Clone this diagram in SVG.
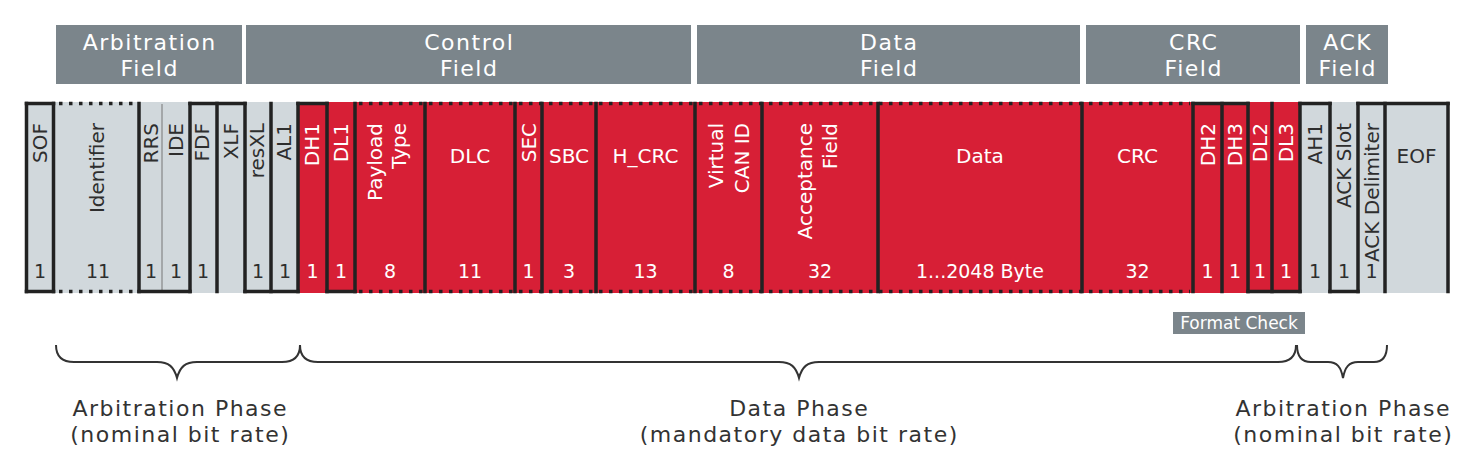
<svg xmlns="http://www.w3.org/2000/svg" width="1476" height="473" viewBox="0 0 1476 473">
<style>
.hdr{fill:#7b858b}
.ht{font-family:"DejaVu Sans",sans-serif;font-size:22px;letter-spacing:1.5px;fill:#fff;text-anchor:middle}
.g{fill:#d1d8dc}
.r{fill:#d71f36}
.lab{font-family:"DejaVu Sans",sans-serif;font-size:20px}
.dk{fill:#2e2e2e}
.wt{fill:#fff}
.v{text-anchor:end}
.h{text-anchor:middle}
.num{font-family:"DejaVu Sans",sans-serif;font-size:19px;text-anchor:middle}
.thick{stroke:#222;stroke-width:3.5;fill:none;stroke-linecap:square}
.dot{stroke:#222;stroke-width:3.5;stroke-dasharray:3.5 6.5;fill:none}
.thin{stroke:#777;stroke-width:1;fill:none}
.brace{stroke:#333;stroke-width:2;fill:none}
.bt{font-family:"DejaVu Sans",sans-serif;font-size:22px;letter-spacing:1.5px;fill:#333;text-anchor:middle}
.fc{font-family:"DejaVu Sans",sans-serif;font-size:17px;fill:#fff;text-anchor:middle}
</style>

<g id="headers">
  <g id="hdr-arbitration"><rect class="hdr" x="56" y="25" width="186" height="59"/><text class="ht" x="149.75" y="50">Arbitration</text><text class="ht" x="149.75" y="76">Field</text></g>
  <g id="hdr-control"><rect class="hdr" x="246" y="25" width="445" height="59"/><text class="ht" x="469.25" y="50">Control</text><text class="ht" x="469.25" y="76">Field</text></g>
  <g id="hdr-data"><rect class="hdr" x="697" y="25" width="383" height="59"/><text class="ht" x="889.25" y="50">Data</text><text class="ht" x="889.25" y="76">Field</text></g>
  <g id="hdr-crc"><rect class="hdr" x="1086" y="25" width="214" height="59"/><text class="ht" x="1193.75" y="50">CRC</text><text class="ht" x="1193.75" y="76">Field</text></g>
  <g id="hdr-ack"><rect class="hdr" x="1306" y="25" width="82" height="59"/><text class="ht" x="1347.75" y="50">ACK</text><text class="ht" x="1347.75" y="76">Field</text></g>
</g>

<g id="fields">
  <g id="f-sof"><rect class="g" x="25" y="102" width="30" height="191"/><text class="lab dk v" transform="translate(47,123) rotate(-90)">SOF</text><text class="num dk" x="40" y="278">1</text></g>
  <g id="f-identifier"><rect class="g" x="55" y="102" width="84" height="191"/><text class="lab dk v" transform="translate(104,123) rotate(-90)">Identifier</text><text class="num dk" x="98" y="278">11</text></g>
  <g id="f-rrs"><rect class="g" x="139" y="102" width="23" height="191"/><text class="lab dk v" transform="translate(158,123) rotate(-90)">RRS</text><text class="num dk" x="151" y="278">1</text></g>
  <g id="f-ide"><rect class="g" x="162" y="102" width="28" height="191"/><text class="lab dk v" transform="translate(183,123) rotate(-90)">IDE</text><text class="num dk" x="176" y="278">1</text></g>
  <g id="f-fdf"><rect class="g" x="190" y="102" width="27" height="191"/><text class="lab dk v" transform="translate(209,123) rotate(-90)">FDF</text><text class="num dk" x="203" y="278">1</text></g>
  <g id="f-xlf"><rect class="g" x="217" y="102" width="28" height="191"/><text class="lab dk v" transform="translate(238,123) rotate(-90)">XLF</text></g>
  <g id="f-resxl"><rect class="g" x="245" y="102" width="26" height="191"/><text class="lab dk v" transform="translate(264,123) rotate(-90)">resXL</text><text class="num dk" x="258" y="278">1</text></g>
  <g id="f-al1"><rect class="g" x="271" y="102" width="27" height="191"/><text class="lab dk v" transform="translate(291,123) rotate(-90)">AL1</text><text class="num dk" x="285" y="278">1</text></g>

  <g id="f-dh1"><rect class="r" x="298" y="102" width="29" height="191"/><text class="lab wt v" transform="translate(319,123) rotate(-90)">DH1</text><text class="num wt" x="312.5" y="278">1</text></g>
  <g id="f-dl1"><rect class="r" x="327" y="102" width="28" height="191"/><text class="lab wt v" transform="translate(348,123) rotate(-90)">DL1</text><text class="num wt" x="341" y="278">1</text></g>
  <g id="f-payload"><rect class="r" x="355" y="102" width="70" height="191"/><text class="lab wt v" transform="translate(382,123) rotate(-90)">Payload</text><text class="lab wt v" transform="translate(406,123) rotate(-90)">Type</text><text class="num wt" x="390" y="278">8</text></g>
  <g id="f-dlc"><rect class="r" x="425" y="102" width="90" height="191"/><text class="lab wt h" x="470" y="163">DLC</text><text class="num wt" x="470" y="278">11</text></g>
  <g id="f-sec"><rect class="r" x="515" y="102" width="27" height="191"/><text class="lab wt v" transform="translate(536,123) rotate(-90)">SEC</text><text class="num wt" x="528.5" y="278">1</text></g>
  <g id="f-sbc"><rect class="r" x="542" y="102" width="54" height="191"/><text class="lab wt h" x="569" y="163">SBC</text><text class="num wt" x="569" y="278">3</text></g>
  <g id="f-hcrc"><rect class="r" x="596" y="102" width="99" height="191"/><text class="lab wt h" x="645.5" y="163">H_CRC</text><text class="num wt" x="645.5" y="278">13</text></g>
  <g id="f-vcanid"><rect class="r" x="695" y="102" width="67" height="191"/><text class="lab wt v" transform="translate(723,123) rotate(-90)">Virtual</text><text class="lab wt v" transform="translate(749,123) rotate(-90)">CAN ID</text><text class="num wt" x="728.5" y="278">8</text></g>
  <g id="f-acceptance"><rect class="r" x="762" y="102" width="116" height="191"/><text class="lab wt v" transform="translate(812,123) rotate(-90)">Acceptance</text><text class="lab wt v" transform="translate(837,123) rotate(-90)">Field</text><text class="num wt" x="820" y="278">32</text></g>
  <g id="f-data"><rect class="r" x="878" y="102" width="204" height="191"/><text class="lab wt h" x="980" y="163">Data</text><text class="num wt" x="980" y="278">1...2048 Byte</text></g>
  <g id="f-crc"><rect class="r" x="1082" y="102" width="111" height="191"/><text class="lab wt h" x="1137.5" y="163">CRC</text><text class="num wt" x="1137.5" y="278">32</text></g>
  <g id="f-dh2"><rect class="r" x="1193" y="102" width="29" height="191"/><text class="lab wt v" transform="translate(1214.5,123) rotate(-90)">DH2</text><text class="num wt" x="1207.5" y="278">1</text></g>
  <g id="f-dh3"><rect class="r" x="1222" y="102" width="26" height="191"/><text class="lab wt v" transform="translate(1242,123) rotate(-90)">DH3</text><text class="num wt" x="1235" y="278">1</text></g>
  <g id="f-dl2"><rect class="r" x="1248" y="102" width="24" height="191"/><text class="lab wt v" transform="translate(1267,123) rotate(-90)">DL2</text><text class="num wt" x="1260" y="278">1</text></g>
  <g id="f-dl3"><rect class="r" x="1272" y="102" width="28" height="191"/><text class="lab wt v" transform="translate(1293,123) rotate(-90)">DL3</text><text class="num wt" x="1286" y="278">1</text></g>

  <g id="f-ah1"><rect class="g" x="1300" y="102" width="30" height="191"/><text class="lab dk v" transform="translate(1322,123) rotate(-90)">AH1</text><text class="num dk" x="1315" y="278">1</text></g>
  <g id="f-ackslot"><rect class="g" x="1330" y="102" width="28" height="191"/><text class="lab dk v" transform="translate(1351,123) rotate(-90)">ACK Slot</text><text class="num dk" x="1344" y="278">1</text></g>
  <g id="f-ackdel"><rect class="g" x="1358" y="102" width="27" height="191"/><text class="lab dk v" transform="translate(1378.5,123) rotate(-90)">ACK Delimiter</text><text class="num dk" x="1371.5" y="278">1</text></g>
  <g id="f-eof"><rect class="g" x="1385" y="102" width="63" height="191"/><text class="lab dk h" x="1416.5" y="163">EOF</text></g>
</g>

<g id="connectors">
  <path class="thin" d="M162,104 V291"/>
  <path class="dot" d="M59,103.5 H134 M59,291.5 H134 M359,103.5 H1190 M359,291.5 H1190"/>
  <path class="thick" d="M26.5,103.5 V291.5 M53.5,103.5 V291.5 M139,103.5 V291.5 M190,103.5 V291.5 M217,103.5 V291.5 M245,103.5 V291.5 M271,103.5 V291.5 M298,103.5 V291.5 M327,103.5 V291.5 M355,103.5 V291.5 M425,103.5 V291.5 M515,103.5 V291.5 M542,103.5 V291.5 M596,103.5 V291.5 M695,103.5 V291.5 M762,103.5 V291.5 M878,103.5 V291.5 M1082,103.5 V291.5 M1193,103.5 V291.5 M1222,103.5 V291.5 M1248,103.5 V291.5 M1272,103.5 V291.5 M1300,103.5 V291.5 M1330,103.5 V291.5 M1358,103.5 V291.5 M1385,103.5 V291.5 M1448,103.5 V291.5"/>
  <path class="thick" d="M26.5,103.5 H53.5 M190,103.5 H245 M298,103.5 H327 M1193,103.5 H1248 M1300,103.5 H1330 M1358,103.5 H1448"/>
  <path class="thick" d="M26.5,291.5 H53.5 M139,291.5 H190 M245,291.5 H298 M327,291.5 H355 M1248,291.5 H1300 M1330,291.5 H1358"/>
  <g id="braces">
    <path class="brace" d="M56,345 C56,356 62,362 74,362 L157,362 C169,362 174,367 177,378 C180,367 185,362 197,362 L282,362 C294,362 300,356 300,345"/>
    <path class="brace" d="M300,345 C300,356 306,362 318,362 L779,362 C791,362 796,367 799,378 C802,367 807,362 819,362 L1278,362 C1290,362 1296,356 1296,345"/>
    <path class="brace" d="M1297,345 C1297,356 1302,362 1311,362 L1328,362 C1337,362 1341,367 1343,378 C1345,367 1349,362 1358,362 L1374,362 C1383,362 1387,356 1387,345"/>
  </g>
</g>

<g id="format-check">
  <rect class="hdr" x="1173" y="312" width="132" height="22"/>
  <text class="fc" x="1239" y="329">Format Check</text>
</g>

<g id="phases">
  <g id="phase-arb1"><text class="bt" x="180.25" y="416">Arbitration Phase</text><text class="bt" x="180.25" y="442">(nominal bit rate)</text></g>
  <g id="phase-data"><text class="bt" x="799.25" y="416">Data Phase</text><text class="bt" x="799.25" y="442">(mandatory data bit rate)</text></g>
  <g id="phase-arb2"><text class="bt" x="1343.25" y="416">Arbitration Phase</text><text class="bt" x="1343.25" y="442">(nominal bit rate)</text></g>
</g>
</svg>
